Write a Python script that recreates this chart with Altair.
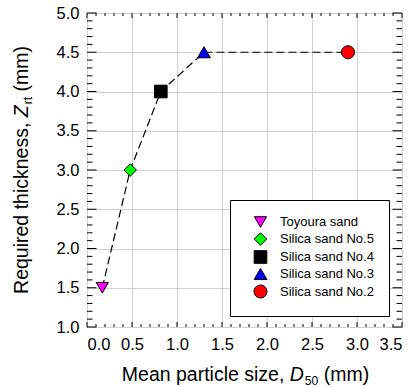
import altair as alt
import pandas as pd

# ---- data ----
materials = ["Toyoura sand", "Silica sand No.5", "Silica sand No.4", "Silica sand No.3", "Silica sand No.2"]
d50 = [0.17, 0.48, 0.82, 1.30, 2.90]
zrt = [1.5, 3.0, 4.0, 4.5, 4.5]
shapes = ["triangle-down", "diamond", "square", "triangle-up", "circle"]
fills = ["#ff00ff", "#00ff00", "#000000", "#0000ff", "#ff0000"]
sizes = [150, 170, 120, 160, 125]

x_major = [0.0, 0.5, 1.0, 1.5, 2.0, 2.5, 3.0, 3.5]
y_major = [1.0, 1.5, 2.0, 2.5, 3.0, 3.5, 4.0, 4.5, 5.0]
x_minor = [round(i * 0.1, 1) for i in range(36) if i % 5 != 0]
y_minor = [round(1 + i * 0.1, 1) for i in range(41) if i % 5 != 0]

W, H = 315, 314
FONT = "Liberation Sans"
TICK_FS = 16.5
TITLE_FS = 19.5

df = pd.DataFrame({"material": materials, "d50": d50, "zrt": zrt})

xs = alt.Scale(domain=[0, 3.5], nice=False, zero=False)
ys = alt.Scale(domain=[1, 5], nice=False, zero=False)

x_axis = alt.Axis(values=x_major, format=".1f", grid=True, gridColor="#d0d0d0", gridWidth=1,
                  ticks=False, domain=False, labelFont=FONT, labelFontSize=TICK_FS,
                  labelColor="black", labelPadding=9, labelOverlap=False, title=None)
y_axis = alt.Axis(values=y_major, format=".1f", grid=True, gridColor="#d0d0d0", gridWidth=1,
                  ticks=False, domain=False, labelFont=FONT, labelFontSize=TICK_FS,
                  labelColor="black", labelPadding=8, labelOverlap=False, title=None)

line = alt.Chart(df).mark_line(color="black", strokeDash=[8, 4], strokeWidth=1.2).encode(
    x=alt.X("d50:Q", scale=xs, axis=x_axis),
    y=alt.Y("zrt:Q", scale=ys, axis=y_axis),
    order="d50:Q",
)

color_scale = alt.Scale(domain=materials, range=fills)
shape_scale = alt.Scale(domain=materials, range=shapes)
leg = alt.Legend(title=None, orient="none", legendX=143, legendY=187)

# legend-carrying layer (fixed symbol size, hidden beneath the sized markers)
legend_pts = alt.Chart(df).mark_point(filled=True, size=100, stroke="black", strokeWidth=1, opacity=1).encode(
    x=alt.X("d50:Q", scale=xs, axis=x_axis),
    y=alt.Y("zrt:Q", scale=ys, axis=y_axis),
    color=alt.Color("material:N", scale=color_scale, legend=leg),
    shape=alt.Shape("material:N", scale=shape_scale, legend=leg),
)

points = alt.Chart(df).mark_point(filled=True, stroke="black", strokeWidth=1, opacity=1).encode(
    x=alt.X("d50:Q", scale=xs, axis=x_axis),
    y=alt.Y("zrt:Q", scale=ys, axis=y_axis),
    color=alt.Color("material:N", scale=color_scale, legend=None),
    shape=alt.Shape("material:N", scale=shape_scale, legend=None),
    size=alt.Size("material:N", scale=alt.Scale(domain=materials, range=sizes), legend=None),
)

# ---- inward ticks ----
def xticks(vals, ln):
    d = pd.DataFrame({"v": vals})
    b = alt.Chart(d).mark_rule(color="black", strokeWidth=1).encode(
        x=alt.X("v:Q", scale=xs, axis=x_axis), y=alt.value(H), y2=alt.value(H - ln))
    t = alt.Chart(d).mark_rule(color="black", strokeWidth=1).encode(
        x=alt.X("v:Q", scale=xs, axis=x_axis), y=alt.value(0), y2=alt.value(ln))
    return [b, t]

def yticks(vals, ln):
    d = pd.DataFrame({"v": vals})
    l = alt.Chart(d).mark_rule(color="black", strokeWidth=1).encode(
        y=alt.Y("v:Q", scale=ys, axis=y_axis), x=alt.value(0), x2=alt.value(ln))
    r = alt.Chart(d).mark_rule(color="black", strokeWidth=1).encode(
        y=alt.Y("v:Q", scale=ys, axis=y_axis), x=alt.value(W), x2=alt.value(W - ln))
    return [l, r]

tick_layers = xticks(x_minor, 3) + xticks(x_major, 5) + yticks(y_minor, 5.5) + yticks(y_major, 9.5)

# ---- composite axis titles (italic symbol + subscript) ----
AW = {" ": 278, ",": 278, "(": 333, ")": 333, ".": 278, "0": 556, "5": 556,
      "M": 833, "D": 722, "R": 722, "Z": 611,
      "a": 556, "c": 500, "d": 556, "e": 556, "h": 556, "i": 222, "k": 500, "l": 222,
      "m": 833, "n": 556, "p": 556, "q": 556, "r": 333, "s": 500, "t": 278, "u": 556, "z": 500}

def tw(s, fs):
    return sum(AW.get(c, 556) for c in s) * fs / 1000.0

SUB = 0.62
SUB_DY = 4

def title_pieces(parts, cx, cy, angle):
    # parts: (text, italic, is_sub, gap_before_px)
    items = []
    off = 0.0
    for txt, it, sub, gap in parts:
        fs = TITLE_FS * (SUB if sub else 1)
        off += gap
        items.append((txt, it, sub, fs, off))
        off += tw(txt, fs)
    total = off
    layers = []
    for txt, it, sub, fs, o in items:
        o = o - total / 2
        mk = dict(align="left", baseline="alphabetic", font=FONT, fontSize=fs, color="black",
                  fontStyle="italic" if it else "normal")
        if angle:
            mk.update(angle=angle, dx=o, dy=SUB_DY if sub else 0)
            enc = dict(x=alt.value(cx), y=alt.value(cy))
        else:
            enc = dict(x=alt.value(cx + o), y=alt.value(cy + (SUB_DY if sub else 0)))
        layers.append(alt.Chart(pd.DataFrame({"t": [txt]})).mark_text(**mk).encode(text="t:N", **enc))
    return layers

SP = 278 * TITLE_FS / 1000.0
xt = title_pieces([("Mean particle size,", False, False, 0), ("D", True, False, SP),
                   ("50", False, True, 1), ("(mm)", False, False, SP)], W / 2 + 1, 367.5, 0)
yt = title_pieces([("Required thickness,", False, False, 0), ("Z", True, False, SP),
                   ("rt", False, True, 1), ("(mm)", False, False, SP)], -59, H / 2, 270)

chart = alt.layer(line, legend_pts, points, *tick_layers, *xt, *yt).properties(
    width=W, height=H,
    autosize=alt.AutoSizeParams(type="none"),
    padding={"left": 87, "top": 13, "right": 15, "bottom": 60},
).configure_view(stroke="black", strokeWidth=1).configure_legend(
    strokeColor="black", fillColor="white", padding=15, cornerRadius=0,
    labelFont=FONT, labelFontSize=13, labelColor="black", labelOffset=12,
    symbolOffset=8, rowPadding=0, symbolSize=100, symbolStrokeColor="black",
    symbolStrokeWidth=1,
)

chart.save("out.html", embed_options={"renderer": "svg", "actions": False})
